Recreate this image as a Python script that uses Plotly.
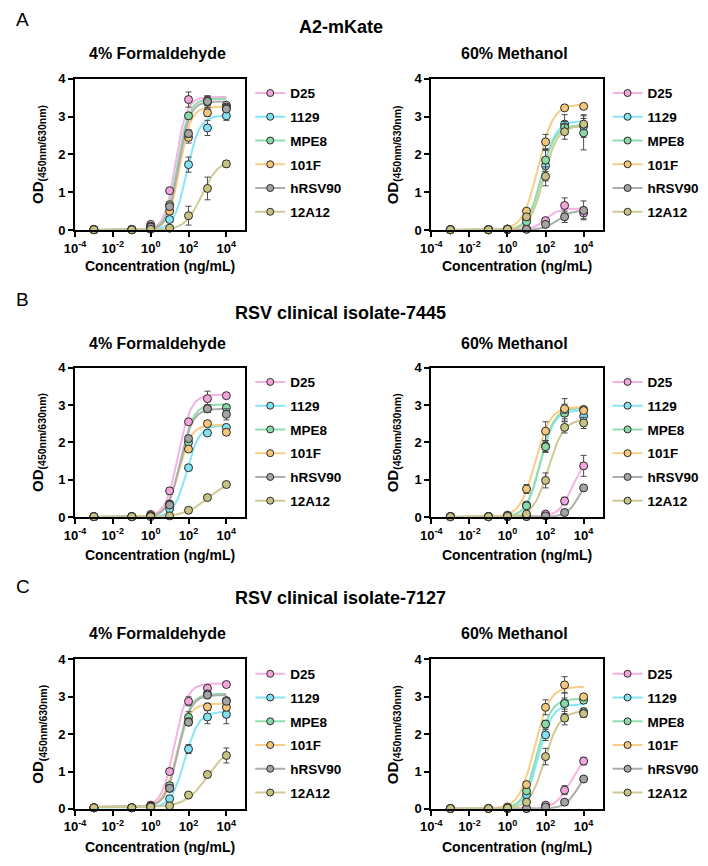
import numpy as np
import plotly.graph_objects as go

# ---------------- data ----------------
CONC = [0.001, 0.1, 1, 10, 100, 1000, 10000]
ANTIBODIES = ["D25", "1129", "MPE8", "101F", "hRSV90", "12A12"]
MARKER_COLORS = ["#F2A6DC", "#82E2F2", "#8AD9A8", "#F4C77C", "#A4A4A4", "#C8C283"]
LINE_COLORS = ["#F5B2E2", "#86E6F6", "#90DEAE", "#F7CD88", "#ADADAD", "#CFCA94"]
ROW_LABELS = ["A", "B", "C"]
ROW_TITLES = ["A2-mKate", "RSV clinical isolate-7445", "RSV clinical isolate-7127"]
COL_TITLES = ["4% Formaldehyde", "60% Methanol"]
X_TITLE = "Concentration (ng/mL)"
Y_TITLE = "OD<sub>(450nm/630nm)</sub>"
X_TICKVALS = [1e-4, 1e-2, 1, 1e2, 1e4]
X_TICKTEXT = ["10<sup>-4</sup>", "10<sup>-2</sup>", "10<sup>0</sup>", "10<sup>2</sup>", "10<sup>4</sup>"]
Y_TICKVALS = [0, 1, 2, 3, 4]

# OD values at each concentration
A_FORM = {
    "D25":    [0.02, 0.02, 0.15, 1.04, 3.45, 3.42, 3.30],
    "1129":   [0.01, 0.01, 0.05, 0.28, 1.73, 2.70, 3.02],
    "MPE8":   [0.01, 0.01, 0.10, 0.67, 3.02, 3.38, 3.25],
    "101F":   [0.01, 0.01, 0.08, 0.50, 2.45, 3.10, 3.22],
    "hRSV90": [0.01, 0.01, 0.08, 0.62, 2.55, 3.40, 3.20],
    "12A12":  [0.01, 0.01, 0.02, 0.05, 0.38, 1.10, 1.75],
}
A_METH = {
    "D25":    [0.01, 0.01, 0.02, 0.03, 0.25, 0.65, 0.45],
    "1129":   [0.01, 0.01, 0.02, 0.30, 1.70, 2.80, 2.75],
    "MPE8":   [0.01, 0.01, 0.02, 0.22, 1.85, 2.72, 2.57],
    "101F":   [0.01, 0.01, 0.03, 0.50, 2.33, 3.23, 3.27],
    "hRSV90": [0.01, 0.01, 0.01, 0.02, 0.15, 0.35, 0.52],
    "12A12":  [0.01, 0.01, 0.02, 0.35, 1.42, 2.60, 2.80],
}
B_FORM = {
    "D25":    [0.01, 0.01, 0.07, 0.70, 2.55, 3.17, 3.25],
    "1129":   [0.01, 0.01, 0.02, 0.22, 1.32, 2.25, 2.40],
    "MPE8":   [0.01, 0.01, 0.03, 0.35, 2.00, 2.90, 2.93],
    "101F":   [0.01, 0.01, 0.03, 0.33, 1.82, 2.50, 2.27],
    "hRSV90": [0.01, 0.01, 0.03, 0.32, 2.10, 2.90, 2.75],
    "12A12":  [0.01, 0.01, 0.01, 0.03, 0.18, 0.52, 0.87],
}
B_METH = {
    "D25":    [0.01, 0.01, 0.01, 0.02, 0.08, 0.43, 1.37],
    "1129":   [0.01, 0.01, 0.03, 0.32, 1.90, 2.87, 2.70],
    "MPE8":   [0.01, 0.01, 0.03, 0.30, 1.88, 2.78, 2.88],
    "101F":   [0.01, 0.01, 0.05, 0.75, 2.30, 2.90, 2.85],
    "hRSV90": [0.01, 0.01, 0.01, 0.01, 0.03, 0.12, 0.78],
    "12A12":  [0.01, 0.01, 0.02, 0.08, 0.98, 2.40, 2.52],
}
C_FORM = {
    "D25":    [0.03, 0.03, 0.10, 1.00, 2.88, 3.23, 3.33],
    "1129":   [0.03, 0.03, 0.05, 0.27, 1.60, 2.46, 2.53],
    "MPE8":   [0.03, 0.03, 0.07, 0.62, 2.45, 3.08, 2.90],
    "101F":   [0.03, 0.03, 0.07, 0.55, 2.33, 2.73, 2.72],
    "hRSV90": [0.03, 0.03, 0.07, 0.55, 2.32, 3.05, 2.88],
    "12A12":  [0.03, 0.03, 0.05, 0.08, 0.37, 0.92, 1.43],
}
C_METH = {
    "D25":    [0.01, 0.01, 0.01, 0.01, 0.10, 0.50, 1.28],
    "1129":   [0.01, 0.01, 0.03, 0.38, 1.98, 2.83, 2.60],
    "MPE8":   [0.01, 0.01, 0.03, 0.48, 2.27, 2.82, 2.91],
    "101F":   [0.01, 0.01, 0.05, 0.65, 2.72, 3.32, 3.00],
    "hRSV90": [0.01, 0.01, 0.01, 0.01, 0.05, 0.18, 0.80],
    "12A12":  [0.01, 0.01, 0.02, 0.18, 1.40, 2.43, 2.55],
}

# error bars (SD)
A_FORM_ERR = {
    "D25":    [0.01, 0.01, 0.03, 0.05, 0.20, 0.12, 0.05],
    "1129":   [0.01, 0.01, 0.02, 0.05, 0.20, 0.20, 0.12],
    "MPE8":   [0.01, 0.01, 0.02, 0.05, 0.08, 0.15, 0.05],
    "101F":   [0.01, 0.01, 0.02, 0.05, 0.15, 0.10, 0.05],
    "hRSV90": [0.01, 0.01, 0.02, 0.05, 0.10, 0.15, 0.05],
    "12A12":  [0.01, 0.01, 0.01, 0.02, 0.25, 0.30, 0.08],
}
A_METH_ERR = {
    "D25":    [0.01, 0.01, 0.01, 0.01, 0.05, 0.20, 0.15],
    "1129":   [0.01, 0.01, 0.01, 0.05, 0.40, 0.25, 0.30],
    "MPE8":   [0.01, 0.01, 0.01, 0.05, 0.30, 0.15, 0.45],
    "101F":   [0.01, 0.01, 0.01, 0.05, 0.20, 0.05, 0.05],
    "hRSV90": [0.01, 0.01, 0.01, 0.01, 0.05, 0.15, 0.25],
    "12A12":  [0.01, 0.01, 0.01, 0.05, 0.25, 0.20, 0.15],
}
B_FORM_ERR = {
    "D25":    [0.01, 0.01, 0.02, 0.08, 0.05, 0.20, 0.06],
    "1129":   [0.01, 0.01, 0.01, 0.03, 0.05, 0.05, 0.05],
    "MPE8":   [0.01, 0.01, 0.01, 0.05, 0.08, 0.10, 0.08],
    "101F":   [0.01, 0.01, 0.01, 0.05, 0.05, 0.05, 0.05],
    "hRSV90": [0.01, 0.01, 0.01, 0.05, 0.08, 0.10, 0.15],
    "12A12":  [0.01, 0.01, 0.01, 0.01, 0.03, 0.05, 0.05],
}
B_METH_ERR = {
    "D25":    [0.01, 0.01, 0.01, 0.01, 0.03, 0.10, 0.28],
    "1129":   [0.01, 0.01, 0.01, 0.05, 0.15, 0.30, 0.10],
    "MPE8":   [0.01, 0.01, 0.01, 0.05, 0.15, 0.15, 0.08],
    "101F":   [0.01, 0.01, 0.02, 0.12, 0.25, 0.12, 0.08],
    "hRSV90": [0.01, 0.01, 0.01, 0.01, 0.02, 0.04, 0.05],
    "12A12":  [0.01, 0.01, 0.01, 0.05, 0.20, 0.15, 0.15],
}
C_FORM_ERR = {
    "D25":    [0.01, 0.01, 0.03, 0.08, 0.12, 0.08, 0.05],
    "1129":   [0.01, 0.01, 0.02, 0.05, 0.12, 0.18, 0.25],
    "MPE8":   [0.01, 0.01, 0.02, 0.08, 0.15, 0.08, 0.06],
    "101F":   [0.01, 0.01, 0.02, 0.05, 0.10, 0.10, 0.08],
    "hRSV90": [0.01, 0.01, 0.02, 0.05, 0.08, 0.10, 0.08],
    "12A12":  [0.01, 0.01, 0.01, 0.02, 0.05, 0.08, 0.20],
}
C_METH_ERR = {
    "D25":    [0.01, 0.01, 0.01, 0.01, 0.03, 0.12, 0.10],
    "1129":   [0.01, 0.01, 0.01, 0.08, 0.15, 0.28, 0.10],
    "MPE8":   [0.01, 0.01, 0.01, 0.05, 0.10, 0.15, 0.08],
    "101F":   [0.01, 0.01, 0.02, 0.08, 0.20, 0.22, 0.06],
    "hRSV90": [0.01, 0.01, 0.01, 0.01, 0.02, 0.04, 0.06],
    "12A12":  [0.01, 0.01, 0.01, 0.06, 0.22, 0.18, 0.10],
}

# 4-parameter logistic fits: (bottom, top, logEC50, hill)
A_FORM_FIT = {
    "D25": (0.0, 3.52, 1.31, 1.5), "1129": (0.0, 3.03, 1.90, 1.3),
    "MPE8": (0.0, 3.47, 1.42, 1.45), "101F": (0.0, 3.26, 1.52, 1.45),
    "hRSV90": (0.0, 3.40, 1.47, 1.45), "12A12": (0.0, 1.85, 2.70, 1.0),
}
A_METH_FIT = {
    "D25": (0.0, 0.57, 2.00, 1.3), "1129": (0.0, 2.88, 1.80, 1.2),
    "MPE8": (0.0, 2.78, 1.78, 1.2), "101F": (0.0, 3.32, 1.60, 1.1),
    "hRSV90": (0.0, 0.52, 2.60, 1.2), "12A12": (0.0, 2.75, 1.90, 1.2),
}
B_FORM_FIT = {
    "D25": (0.0, 3.28, 1.45, 1.3), "1129": (0.0, 2.45, 1.90, 1.3),
    "MPE8": (0.0, 3.02, 1.58, 1.3), "101F": (0.0, 2.47, 1.48, 1.3),
    "hRSV90": (0.0, 2.90, 1.55, 1.3), "12A12": (0.0, 1.00, 3.00, 0.7),
}
B_METH_FIT = {
    "D25": (0.0, 1.60, 3.40, 1.2), "1129": (0.0, 2.86, 1.72, 1.2),
    "MPE8": (0.0, 2.92, 1.72, 1.2), "101F": (0.0, 2.95, 1.45, 1.1),
    "hRSV90": (0.0, 1.20, 3.80, 1.3), "12A12": (0.0, 2.62, 2.15, 1.1),
}
C_FORM_FIT = {
    "D25": (0.05, 3.36, 1.25, 1.3), "1129": (0.03, 2.60, 1.80, 1.2),
    "MPE8": (0.05, 3.08, 1.42, 1.3), "101F": (0.05, 2.82, 1.35, 1.3),
    "hRSV90": (0.05, 3.05, 1.45, 1.3), "12A12": (0.05, 1.70, 3.00, 0.75),
}
C_METH_FIT = {
    "D25": (0.0, 1.45, 3.30, 1.1), "1129": (0.0, 2.80, 1.62, 1.2),
    "MPE8": (0.0, 2.95, 1.55, 1.2), "101F": (0.0, 3.27, 1.40, 1.1),
    "hRSV90": (0.0, 1.20, 3.75, 1.2), "12A12": (0.0, 2.62, 1.95, 1.1),
}

PANELS = [
    (0, 0, A_FORM, A_FORM_ERR, A_FORM_FIT),
    (0, 1, A_METH, A_METH_ERR, A_METH_FIT),
    (1, 0, B_FORM, B_FORM_ERR, B_FORM_FIT),
    (1, 1, B_METH, B_METH_ERR, B_METH_FIT),
    (2, 0, C_FORM, C_FORM_ERR, C_FORM_FIT),
    (2, 1, C_METH, C_METH_ERR, C_METH_FIT),
]

# ---------------- layout geometry (pixels) ----------------
W, H = 708, 866
COL_X = [(65, 238), (427, 601)]
ROW_Y = [(73, 227), (367, 519), (664, 816)]
LEGEND_X = [243, 606]
ROW_LABEL_Y = [13, 298, 590]
ROW_TITLE_Y = [20, 311, 601]
COL_TITLE_Y = [47.5, 342.5, 637.5]
X_TITLE_Y = [264, 558, 855]
Y_TITLE_X = [28, 388]

FONT = "Liberation Sans, Arial, Helvetica, sans-serif"


def px(x):
    return x / W


def py(y):
    return 1 - y / H


fig = go.Figure()
layout = dict(
    width=W, height=H, margin=dict(l=0, r=0, t=0, b=0),
    paper_bgcolor="white", plot_bgcolor="white",
    font=dict(family=FONT, color="black"),
    annotations=[],
)

log_fit_x = np.linspace(-3, 4, 240)

for i, (r, c, vals, errs, fits) in enumerate(PANELS):
    k = i + 1
    xa = "x" if k == 1 else f"x{k}"
    ya = "y" if k == 1 else f"y{k}"
    leg = "legend" if k == 1 else f"legend{k}"

    # fitted curves
    for j, name in enumerate(ANTIBODIES):
        b, t, L, h = fits[name]
        curve = b + (t - b) / (1 + 10 ** ((L - log_fit_x) * h))
        fig.add_trace(go.Scatter(
            x=10 ** log_fit_x, y=curve, mode="lines",
            line=dict(color=LINE_COLORS[j], width=2),
            xaxis=xa, yaxis=ya, showlegend=False, hoverinfo="skip",
            legendgroup=f"{k}-{name}", legend=leg, cliponaxis=False,
        ))
    # data points with SD
    for j, name in enumerate(ANTIBODIES):
        fig.add_trace(go.Scatter(
            x=CONC, y=vals[name], mode="markers",
            marker=dict(size=8, color=MARKER_COLORS[j], line=dict(color="#2a2a2a", width=1)),
            error_y=dict(type="data", array=errs[name], color="#4a4a4a", thickness=1, width=3),
            xaxis=xa, yaxis=ya, showlegend=False, cliponaxis=False,
            legendgroup=f"{k}-{name}", legend=leg, name=name,
        ))
    # legend entries
    for j, name in enumerate(ANTIBODIES):
        fig.add_trace(go.Scatter(
            x=[None], y=[None], mode="lines+markers", name=name,
            line=dict(color=LINE_COLORS[j], width=2),
            marker=dict(size=7, color=MARKER_COLORS[j], line=dict(color="#2a2a2a", width=1)),
            xaxis=xa, yaxis=ya, showlegend=True,
            legendgroup=f"{k}-{name}", legend=leg,
        ))

    x0, x1 = COL_X[c]
    y0, y1 = ROW_Y[r]
    axis_common = dict(
        showline=True, linewidth=2, linecolor="black", mirror=True,
        ticks="outside", ticklen=5, tickwidth=2, tickcolor="black",
        showgrid=False, zeroline=False,
        tickfont=dict(family=FONT, size=13, color="black", weight="bold"),
    )
    layout["xaxis" if k == 1 else f"xaxis{k}"] = dict(
        type="log", range=[-4, 5], domain=[px(x0), px(x1)], anchor=ya,
        tickvals=X_TICKVALS, ticktext=X_TICKTEXT, **axis_common,
    )
    layout["yaxis" if k == 1 else f"yaxis{k}"] = dict(
        range=[0, 4], domain=[py(y1), py(y0)], anchor=xa,
        tickvals=Y_TICKVALS, **axis_common,
    )
    layout[leg] = dict(
        x=px(LEGEND_X[c]), y=py(y0 - 1), xanchor="left", yanchor="top",
        bgcolor="rgba(0,0,0,0)", borderwidth=0, tracegroupgap=3.2,
        font=dict(family=FONT, size=13.5, color="black", weight="bold"),
    )
    # column title
    layout["annotations"].append(dict(
        text=COL_TITLES[c], x=px((x0 + x1) / 2 - 3), y=py(COL_TITLE_Y[r]),
        xref="paper", yref="paper", xanchor="center", yanchor="middle", showarrow=False,
        font=dict(family=FONT, size=16, weight="bold", color="black"),
    ))
    # x-axis title
    layout["annotations"].append(dict(
        text=X_TITLE, x=px((x0 + x1) / 2), y=py(X_TITLE_Y[r]),
        xref="paper", yref="paper", xanchor="center", yanchor="middle", showarrow=False,
        font=dict(family=FONT, size=14, weight="bold", color="black"),
    ))
    # y-axis title
    layout["annotations"].append(dict(
        text=Y_TITLE, x=px(Y_TITLE_X[c]), y=py((y0 + y1) / 2), textangle=-90,
        xref="paper", yref="paper", xanchor="center", yanchor="middle", showarrow=False,
        font=dict(family=FONT, size=15, weight="bold", color="black"),
    ))

for r in range(3):
    layout["annotations"].append(dict(
        text=ROW_LABELS[r], x=px(3), y=py(ROW_LABEL_Y[r]),
        xref="paper", yref="paper", xanchor="left", yanchor="middle", showarrow=False,
        font=dict(family=FONT, size=19, color="black"),
    ))
    layout["annotations"].append(dict(
        text=ROW_TITLES[r], x=px(335), y=py(ROW_TITLE_Y[r]),
        xref="paper", yref="paper", xanchor="center", yanchor="middle", showarrow=False,
        font=dict(family=FONT, size=18, weight="bold", color="black"),
    ))

fig.update_layout(**layout)
fig.write_html("out.html")
